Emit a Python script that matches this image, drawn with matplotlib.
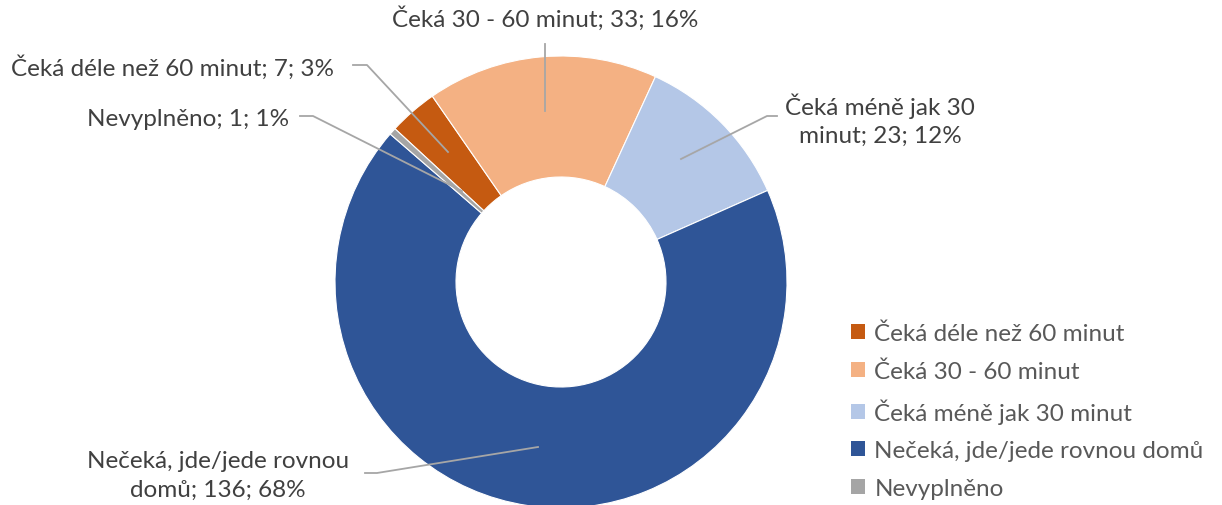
import matplotlib
matplotlib.use("Agg")
import matplotlib.pyplot as plt
from matplotlib.patches import Patch

# data
categories = ["Čeká déle než 60 minut", "Čeká 30 - 60 minut", "Čeká méně jak 30 minut",
              "Nečeká, jde/jede rovnou domů", "Nevyplněno"]
counts = [7, 33, 23, 136, 1]
percents = ["3%", "16%", "12%", "68%", "1%"]
label_names = ["Čeká déle než 60 minut", "Čeká 30 - 60 minut", "Čeká méně jak 30\nminut",
               "Nečeká, jde/jede rovnou\ndomů", "Nevyplněno"]
colors = ["#C55A11", "#F4B183", "#B4C7E7", "#2F5597", "#A5A5A5"]

plt.rcParams['font.family'] = ['Lato', 'DejaVu Sans']

W, H = 1222, 506
fig = plt.figure(figsize=(W / 100, H / 100), dpi=100)
ax = fig.add_axes([0, 0, 1, 1])

cx, cy = 561, H - 283
R = 226
start = 137.3  # first slice starts left of top, clockwise

ax.pie(counts, colors=colors, startangle=start, counterclock=False,
       center=(cx, cy), radius=R, wedgeprops=dict(width=121, edgecolor='white', linewidth=0.8),
       frame=True)
ax.set_xlim(0, W)
ax.set_ylim(0, H)
ax.set_aspect('equal')
ax.axis('off')

def y(v):
    return H - v

lc = "#A6A6A6"
txt = "#404040"
fs = 17.5

# leader lines + labels
ax.plot([353, 367, 448], [y(66), y(66), y(153)], color=lc, lw=1.3)
ax.text(334, y(68), f"{label_names[0]}; {counts[0]}; {percents[0]}", ha='right', va='center',
        fontsize=fs, color=txt)

ax.plot([545, 545], [y(45), y(112)], color=lc, lw=1.3)
ax.text(545, y(19), f"{label_names[1]}; {counts[1]}; {percents[1]}", ha='center', va='center',
        fontsize=fs, color=txt)

ax.plot([777, 767, 681], [y(117), y(117), y(160)], color=lc, lw=1.3)
ax.text(880, y(120), f"{label_names[2]}; {counts[2]}; {percents[2]}", ha='center', va='center',
        fontsize=fs, color=txt, linespacing=1.42)

ax.plot([365, 377, 538], [y(474), y(474), y(448)], color=lc, lw=1.3)
ax.text(218, y(476), f"{label_names[3]}; {counts[3]}; {percents[3]}", ha='center', va='center',
        fontsize=fs, color=txt, linespacing=1.42)

ax.plot([300, 313, 462], [y(117), y(117), y(192)], color=lc, lw=1.3)
ax.text(289, y(119), f"{label_names[4]}; {counts[4]}; {percents[4]}", ha='right', va='center',
        fontsize=fs, color=txt)

handles = [Patch(facecolor=c, edgecolor='none') for c in colors]
leg = ax.legend(handles, categories, loc='upper left', bbox_to_anchor=(851 / W, 1 - 324 / H),
                frameon=False, fontsize=fs, handlelength=0.58, handleheight=0.58,
                handletextpad=0.38, labelspacing=0.67, borderaxespad=0, borderpad=0)
for t in leg.get_texts():
    t.set_color("#595959")

fig.savefig("out.png", dpi=100)
